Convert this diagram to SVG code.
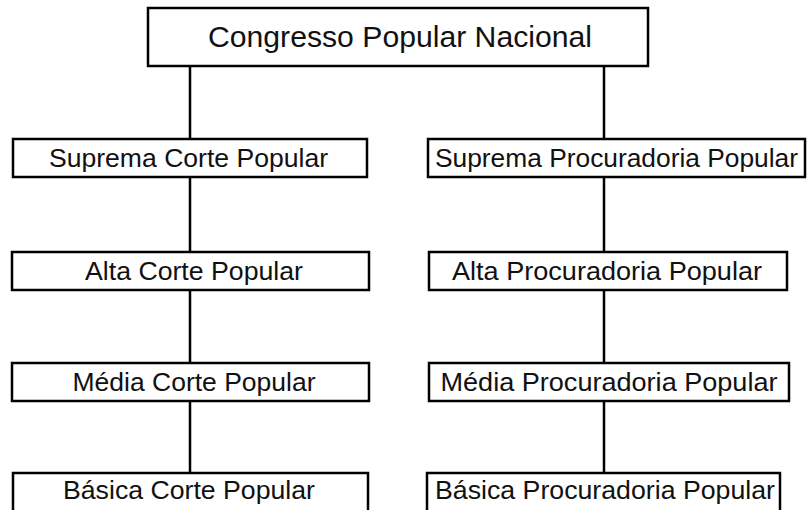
<svg xmlns="http://www.w3.org/2000/svg" width="807" height="510" viewBox="0 0 807 510">
<style>
.box{fill:#fff;stroke:#000;stroke-width:2.5}
.t{font-family:"Liberation Sans",Arial,sans-serif;font-size:25px;fill:#111;text-anchor:middle}
.big{font-size:29px}
.c{stroke:#000;stroke-width:2.5;fill:none}
</style>
<rect width="807" height="510" fill="#fff"/>
<g id="connectors">
<line class="c" x1="190" y1="66" x2="190" y2="473"/>
<line class="c" x1="604" y1="66" x2="604" y2="473"/>
</g>
<g id="congresso"><rect class="box" x="148" y="8" width="500" height="58"/><text class="t big" x="400" y="47" textLength="384" lengthAdjust="spacingAndGlyphs">Congresso Popular Nacional</text></g>
<g id="suprema-corte"><rect class="box" x="13" y="139" width="354" height="38"/><text class="t" x="188.5" y="167" textLength="279" lengthAdjust="spacingAndGlyphs">Suprema Corte Popular</text></g>
<g id="suprema-proc"><rect class="box" x="428" y="139" width="377" height="38"/><text class="t" x="616.5" y="167" textLength="363" lengthAdjust="spacingAndGlyphs">Suprema Procuradoria Popular</text></g>
<g id="alta-corte"><rect class="box" x="12" y="252" width="357" height="38"/><text class="t" x="194" y="280" textLength="218" lengthAdjust="spacingAndGlyphs">Alta Corte Popular</text></g>
<g id="alta-proc"><rect class="box" x="429" y="252" width="358" height="38"/><text class="t" x="607" y="280" textLength="310" lengthAdjust="spacingAndGlyphs">Alta Procuradoria Popular</text></g>
<g id="media-corte"><rect class="box" x="12" y="363" width="357" height="38"/><text class="t" x="194" y="391" textLength="243" lengthAdjust="spacingAndGlyphs">Média Corte Popular</text></g>
<g id="media-proc"><rect class="box" x="429" y="363" width="360" height="38"/><text class="t" x="609" y="391" textLength="337" lengthAdjust="spacingAndGlyphs">Média Procuradoria Popular</text></g>
<g id="basica-corte"><rect class="box" x="13" y="473" width="355" height="45"/><text class="t" x="189" y="499" textLength="252" lengthAdjust="spacingAndGlyphs">Básica Corte Popular</text></g>
<g id="basica-proc"><rect class="box" x="427" y="473" width="353" height="45"/><text class="t" x="605" y="499" textLength="340" lengthAdjust="spacingAndGlyphs">Básica Procuradoria Popular</text></g>
</svg>
